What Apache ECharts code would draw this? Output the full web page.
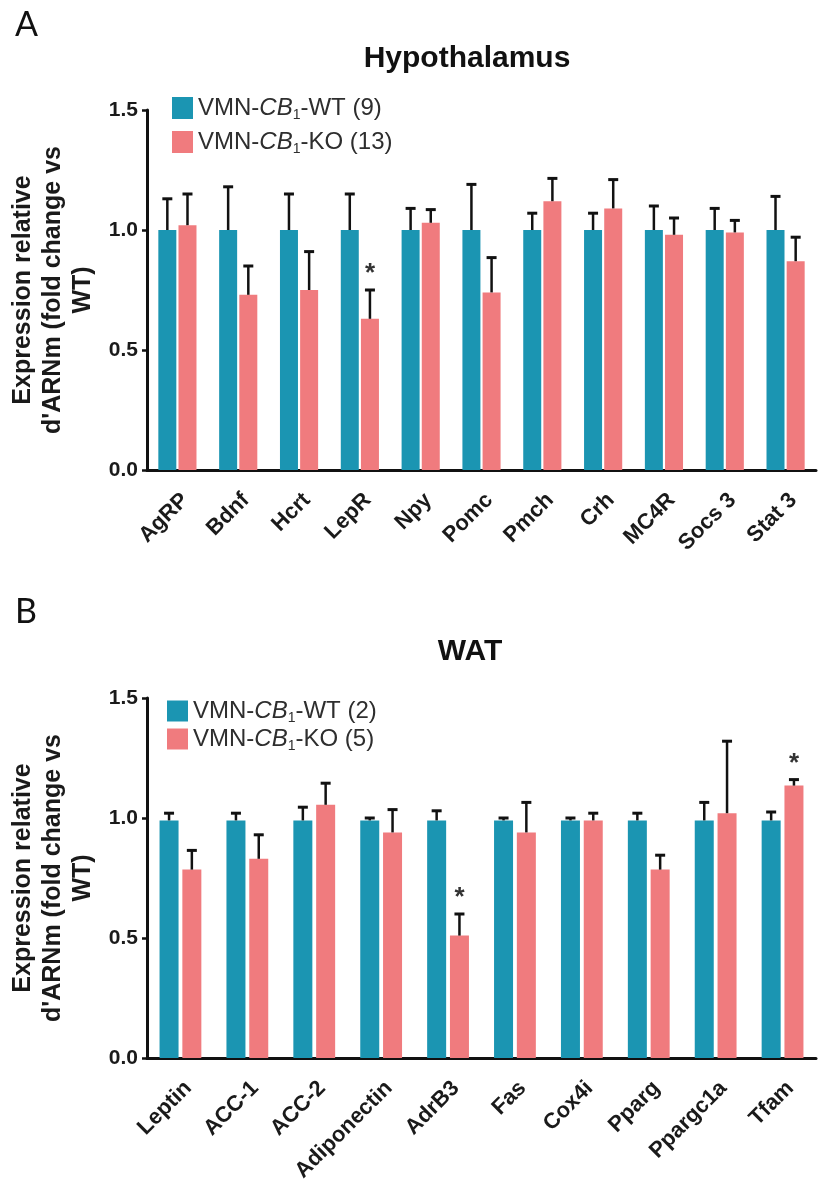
<!DOCTYPE html>
<html>
<head>
<meta charset="utf-8">
<script src="https://cdn.jsdelivr.net/npm/echarts@6/dist/echarts.min.js"></script>
<style>
  html, body { margin: 0; padding: 0; background: #fff; }
  #chart { width: 818px; height: 1194px; }
</style>
</head>
<body>
<div id="chart"></div>
<script>
// ---- Panel A: hypothalamus gene expression (mean and upper SEM) ----
const hypoGenes = ['AgRP', 'Bdnf', 'Hcrt', 'LepR', 'Npy', 'Pomc', 'Pmch', 'Crh', 'MC4R', 'Socs 3', 'Stat 3'];
const hypoWT    = [1.00, 1.00, 1.00, 1.00, 1.00, 1.00, 1.00, 1.00, 1.00, 1.00, 1.00];
const hypoWTsem = [0.13, 0.18, 0.15, 0.15, 0.09, 0.19, 0.07, 0.07, 0.10, 0.09, 0.14];
const hypoKO    = [1.02, 0.73, 0.75, 0.63, 1.03, 0.74, 1.12, 1.09, 0.98, 0.99, 0.87];
const hypoKOsem = [0.13, 0.12, 0.16, 0.12, 0.055, 0.145, 0.095, 0.12, 0.07, 0.05, 0.10];
const hypoKOsig = [0, 0, 0, 1, 0, 0, 0, 0, 0, 0, 0];
const hypoNames = ['VMN-CB1-WT (9)', 'VMN-CB1-KO (13)'];

// ---- Panel B: white adipose tissue gene expression ----
const watGenes = ['Leptin', 'ACC-1', 'ACC-2', 'Adiponectin', 'AdrB3', 'Fas', 'Cox4i', 'Pparg', 'Ppargc1a', 'Tfam'];
const watWT    = [0.99, 0.99, 0.99, 0.99, 0.99, 0.99, 0.99, 0.99, 0.99, 0.99];
const watWTsem = [0.03, 0.03, 0.055, 0.01, 0.04, 0.01, 0.01, 0.03, 0.075, 0.035];
const watKO    = [0.785, 0.83, 1.055, 0.94, 0.51, 0.94, 0.99, 0.785, 1.02, 1.135];
const watKOsem = [0.08, 0.10, 0.09, 0.095, 0.09, 0.125, 0.03, 0.06, 0.30, 0.025];
const watKOsig = [0, 0, 0, 0, 1, 0, 0, 0, 0, 1];
const watNames = ['VMN-CB1-WT (2)', 'VMN-CB1-KO (5)'];

const yMax = 1.5;
const yStep = 0.5;
const yAxisTitle = "Expression relative\nd'ARNm (fold change vs\nWT)";

const WT_COLOR = '#1b95b2';
const KO_COLOR = '#f07b7e';
const INK = '#111';
const SANS = "'Liberation Sans', Arial, sans-serif";

const chart = echarts.init(document.getElementById('chart'), null, { renderer: 'canvas' });

function legendFormatter(name) {
  // italic CB with subscript 1
  return name.replace('CB1', '{i|CB}{s|1}');
}

function xAxisFor(gridIndex, cats) {
  return {
    type: 'category', gridIndex, data: cats,
    axisLine: { lineStyle: { color: INK, width: 3 } },
    axisTick: { alignWithLabel: true, length: 6, lineStyle: { color: INK, width: 3 } },
    axisLabel: { rotate: 45, margin: 19, verticalAlign: 'top',
                 fontFamily: SANS, fontWeight: 'bold', fontSize: 22, color: '#1a1a1a' }
  };
}

function yAxisFor(gridIndex) {
  return {
    type: 'value', gridIndex, min: 0, max: yMax, interval: yStep,
    name: yAxisTitle, nameLocation: 'middle', nameRotate: 90, nameGap: 48,
    nameTextStyle: { fontFamily: SANS, fontWeight: 'bold', fontSize: 25, lineHeight: 30, color: '#1a1a1a', align: 'center' },
    axisLine: { show: true, lineStyle: { color: INK, width: 3 } },
    axisTick: { show: true, length: 5, lineStyle: { color: INK, width: 2.5 } },
    splitLine: { show: false },
    axisLabel: { margin: 9, fontFamily: SANS, fontWeight: 'bold', fontSize: 21, color: '#1a1a1a',
                 formatter: v => v.toFixed(1) }
  };
}

function barSeries(name, axisIndex, values, color, barW, gap) {
  return {
    type: 'bar', name, xAxisIndex: axisIndex, yAxisIndex: axisIndex, data: values,
    barWidth: barW, barGap: gap, itemStyle: { color }
  };
}

// upper error bar (T shape) with optional significance asterisk
function errorSeries(axisIndex, means, sems, sig, offset) {
  return {
    type: 'custom', xAxisIndex: axisIndex, yAxisIndex: axisIndex, z: 5,
    data: means.map((m, i) => [i, m, m + sems[i], sig[i]]),
    encode: { x: 0, y: 2 },
    renderItem: function (params, api) {
      const i = api.value(0);
      const base = api.coord([i, api.value(1)]);
      const top = api.coord([i, api.value(2)]);
      const x = base[0] + offset;
      const children = [
        { type: 'line', shape: { x1: x, y1: base[1], x2: x, y2: top[1] }, style: { stroke: INK, lineWidth: 2.5 } },
        { type: 'line', shape: { x1: x - 5, y1: top[1], x2: x + 5, y2: top[1] }, style: { stroke: INK, lineWidth: 3 } }
      ];
      if (api.value(3)) {
        children.push({
          type: 'text',
          style: { x: x, y: top[1] - 3, text: '*', textAlign: 'center', textVerticalAlign: 'bottom',
                   font: "bold 26px 'Liberation Sans', Arial, sans-serif", fill: '#333' }
        });
      }
      return { type: 'group', children };
    }
  };
}

const barA = 18, gapA = 0.12;
const barB = 19, gapB = 0.2;
const offA = barA * (1 + gapA) / 2;
const offB = barB * (1 + gapB) / 2;

const legendText = {
  fontFamily: SANS, fontSize: 24, lineHeight: 22, color: '#2e2e2e',
  rich: {
    i: { fontFamily: SANS, fontStyle: 'italic', fontSize: 24, lineHeight: 22, color: '#2e2e2e' },
    s: { fontFamily: SANS, fontSize: 14, lineHeight: 22, color: '#2e2e2e', padding: [14, 0, 0, 0] }
  }
};

const option = {
  animation: false,
  backgroundColor: '#fff',
  title: [
    { text: 'A', left: 10, top: 3, textStyle: { fontFamily: 'Lato', fontSize: 34, fontWeight: 'normal', color: '#111' } },
    { text: 'Hypothalamus', left: 462, top: 39, textAlign: 'center',
      textStyle: { fontFamily: SANS, fontSize: 30, fontWeight: 'bold', color: '#111' } },
    { text: 'B', left: 10, top: 590, textStyle: { fontFamily: 'Lato', fontSize: 34, fontWeight: 'normal', color: '#111' } },
    { text: 'WAT', left: 465, top: 632, textAlign: 'center',
      textStyle: { fontFamily: SANS, fontSize: 30, fontWeight: 'bold', color: '#111' } }
  ],
  legend: [
    { data: hypoNames, left: 167, top: 89, orient: 'vertical', itemWidth: 21, itemHeight: 22, itemGap: 6,
      icon: 'rect', formatter: legendFormatter, textStyle: legendText },
    { data: watNames, left: 162, top: 692, orient: 'vertical', itemWidth: 21, itemHeight: 21, itemGap: 0,
      icon: 'rect', formatter: legendFormatter, textStyle: legendText }
  ],
  grid: [
    { left: 147, right: 2, top: 110, height: 360, outerBoundsMode: 'none' },
    { left: 147, right: 2, top: 698, height: 360, outerBoundsMode: 'none' }
  ],
  xAxis: [xAxisFor(0, hypoGenes), xAxisFor(1, watGenes)],
  yAxis: [yAxisFor(0), yAxisFor(1)],
  series: [
    barSeries(hypoNames[0], 0, hypoWT, WT_COLOR, barA, (gapA * 100) + '%'),
    barSeries(hypoNames[1], 0, hypoKO, KO_COLOR, barA, (gapA * 100) + '%'),
    errorSeries(0, hypoWT, hypoWTsem, hypoWT.map(() => 0), -offA),
    errorSeries(0, hypoKO, hypoKOsem, hypoKOsig, offA),
    barSeries(watNames[0], 1, watWT, WT_COLOR, barB, (gapB * 100) + '%'),
    barSeries(watNames[1], 1, watKO, KO_COLOR, barB, (gapB * 100) + '%'),
    errorSeries(1, watWT, watWTsem, watWT.map(() => 0), -offB),
    errorSeries(1, watKO, watKOsem, watKOsig, offB)
  ]
};

chart.setOption(option);
</script>
</body>
</html>
